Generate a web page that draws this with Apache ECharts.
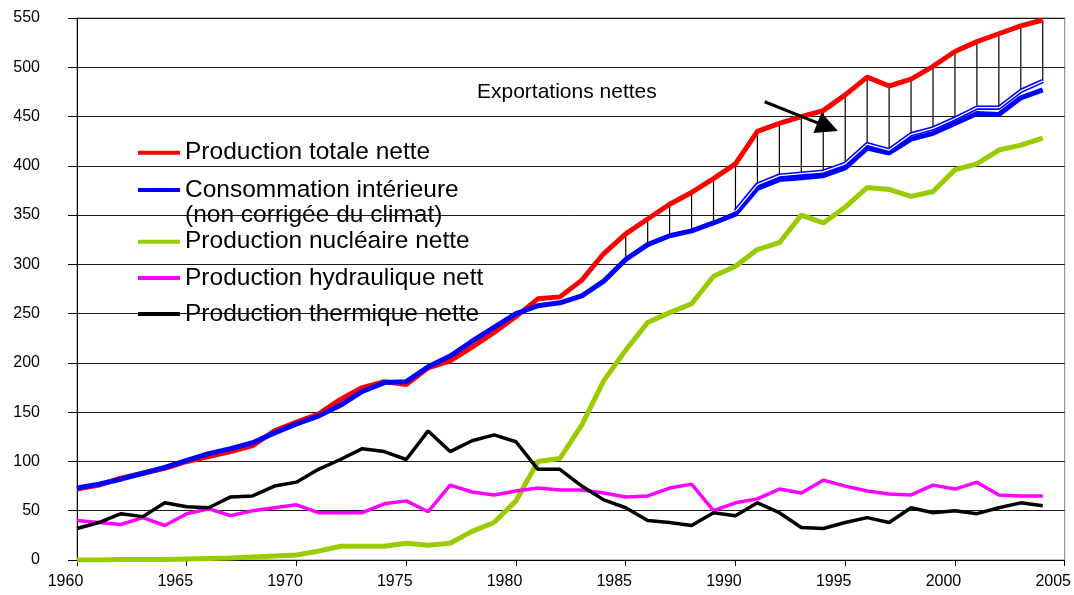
<!DOCTYPE html>
<html>
<head>
<meta charset="utf-8">
<script src="https://cdn.jsdelivr.net/npm/echarts@6/dist/echarts.min.js"></script>
<style>
  html, body { margin: 0; padding: 0; background: #fff; }
  #chart { width: 1074px; height: 595px; }
</style>
</head>
<body>
<div id="chart"></div>
<script>
// années 1960 -> 2004
var annees = [];
for (var a = 1960; a <= 2004; a++) annees.push(a);

// TWh
var totale = [72, 76, 83, 88, 93, 100, 105, 110, 116, 131,
  140, 148, 163, 175, 181, 178, 195, 202, 216, 231,
  247, 265, 267, 284, 311, 331, 346, 361, 373, 387,
  402, 435, 443, 450, 456, 472, 490, 481, 488, 501,
  516, 526, 534, 542, 548];
var consommation = [73, 77, 82, 88, 94, 101, 108, 113, 119, 129,
  138, 146, 157, 171, 180, 181, 196, 207, 222, 236,
  250, 258, 261, 268, 283, 305, 320, 329, 334, 342,
  351, 377, 386, 388, 390, 398, 418, 413, 427, 433,
  443, 453, 452, 469, 477];
// trait fin au-dessus de la consommation (1990 -> 2004)
var consHautAnnees = [1990, 1991, 1992, 1993, 1994, 1995, 1996, 1997, 1998, 1999, 2000, 2001, 2002, 2003, 2004];
var consHaut = [354, 381, 390, 392, 394, 402, 422, 416, 432, 438, 448, 459, 459, 476, 486];
var nucleaire = [0, 0, 0.5, 0.5, 0.5, 1, 1.5, 2, 3, 4,
  5, 9, 14, 14, 14, 17, 15, 17, 29, 38,
  60, 100, 103, 137, 182, 213, 241, 251, 260, 288,
  298, 315, 322, 350, 342, 358, 378, 376, 369, 374,
  396, 402, 416, 421, 428];
var hydraulique = [40, 38, 36, 43, 35, 47, 52, 45, 50, 53,
  56, 48, 48, 48, 57, 60, 49, 76, 69, 66,
  70, 73, 71, 71, 68, 64, 65, 73, 77, 50,
  58, 62, 72, 68, 81, 75, 70, 67, 66, 76,
  72, 79, 66, 65, 65];
var thermique = [32, 38, 47, 44, 58, 54, 53, 64, 65, 75,
  79, 92, 102, 113, 110, 102, 131, 110, 121, 127,
  120, 92, 92, 75, 61, 53, 40, 38, 35, 48,
  45, 58, 48, 33, 32, 38, 43, 38, 53, 48,
  50, 47, 53, 58, 55];
var hachuresDebut = 1985;

var noms = ['Production totale nette', 'Consommation intérieure', 'Production nucléaire nette',
  'Production hydraulique nette', 'Production thermique nette'];

function paires(xs, ys) {
  return xs.map(function (x, i) { return [x, ys[i]]; });
}

// traits verticaux "exportations nettes"
var hachures = [];
annees.forEach(function (an, i) {
  if (an < hachuresDebut) return;
  var k = consHautAnnees.indexOf(an);
  var bas = k >= 0 ? consHaut[k] : consommation[i];
  hachures.push([an, totale[i], bas]);
});

var police = 'Arial, "Liberation Sans", sans-serif';

var chart = echarts.init(document.getElementById('chart'));

var option = {
  animation: false,
  backgroundColor: '#fff',
  grid: {
    left: 77, right: 8, top: 18, bottom: 35,
    show: true, borderColor: '#808080', borderWidth: 1
  },
  xAxis: {
    type: 'value', min: 1960, max: 2005, interval: 5,
    axisLine: { lineStyle: { color: '#000', width: 1 } },
    axisTick: { show: true, length: 6, lineStyle: { color: '#000' } },
    splitLine: { show: false },
    axisLabel: {
      color: '#000', fontSize: 16, fontFamily: police, margin: 14,
      padding: [0, 23, 0, 0],
      formatter: function (v) { return String(v); }
    }
  },
  yAxis: {
    type: 'value', min: 0, max: 550, interval: 50,
    axisLine: { show: true, lineStyle: { color: '#000', width: 1 } },
    axisTick: { show: true, length: 9, lineStyle: { color: '#000' } },
    splitLine: { lineStyle: { color: '#1a1a1a', width: 1 } },
    axisLabel: { color: '#000', fontSize: 16, fontFamily: police, margin: 37 }
  },
  legend: [
    {
      data: [noms[0], noms[1]],
      orient: 'vertical', left: 138, top: 139.7, padding: 0,
      itemWidth: 42, itemHeight: 4, itemGap: 11.3, icon: 'rect',
      selectedMode: false,
      textStyle: { color: '#000', fontSize: 24.5, fontFamily: police, lineHeight: 26 }
    },
    {
      data: [noms[2], noms[3], noms[4]],
      orient: 'vertical', left: 138, top: 228.7, padding: 0,
      itemWidth: 42, itemHeight: 4, itemGap: 10.2, icon: 'rect',
      selectedMode: false,
      textStyle: {
        color: '#000', fontSize: 24.5, fontFamily: police, lineHeight: 26,
        width: 309, overflow: 'truncate', ellipsis: ''
      }
    }
  ],
  graphic: [
    {
      type: 'text', left: 185, top: 203, silent: true,
      style: { text: '(non corrigée du climat)', fill: '#000', font: '24.5px ' + police }
    },
    {
      type: 'text', left: 477, top: 82, silent: true,
      style: { text: 'Exportations nettes', fill: '#000', font: '21px ' + police }
    }
  ],
  series: [
    {
      name: 'hachures', type: 'custom', z: 1, silent: true,
      data: hachures,
      encode: { x: 0, y: [1, 2] },
      renderItem: function (params, api) {
        var p1 = api.coord([api.value(0), api.value(1)]);
        var p2 = api.coord([api.value(0), api.value(2)]);
        return {
          type: 'line',
          shape: { x1: p1[0], y1: p1[1], x2: p2[0], y2: p2[1] },
          style: { stroke: '#000', lineWidth: 1.2 }
        };
      }
    },
    {
      name: noms[0], type: 'line', data: paires(annees, totale),
      showSymbol: false, symbol: 'none', color: '#ff0000',
      lineStyle: { width: 5, color: '#ff0000' },
      markLine: {
        silent: true, symbol: ['none', 'triangle'], symbolSize: 22,
        lineStyle: { color: '#000', width: 3, type: 'solid' },
        label: { show: false },
        data: [[{ coord: [1991.33, 465] }, { coord: [1994.2, 439.5] }]]
      }
    },
    {
      name: noms[1], type: 'line', data: paires(annees, consommation),
      showSymbol: false, symbol: 'none', color: '#0000ff',
      lineStyle: { width: 5, color: '#0000ff' }
    },
    {
      name: 'consHaut', type: 'line', data: paires(consHautAnnees, consHaut),
      showSymbol: false, symbol: 'none', color: '#0000ff',
      lineStyle: { width: 4.5, color: '#0000ff' }
    },
    {
      name: 'consHautBlanc', type: 'line', data: paires(consHautAnnees, consHaut),
      showSymbol: false, symbol: 'none', color: '#ffffff',
      lineStyle: { width: 1.3, color: '#ffffff' }
    },
    {
      name: noms[2], type: 'line', data: paires(annees, nucleaire),
      showSymbol: false, symbol: 'none', color: '#99cc00',
      lineStyle: { width: 5, color: '#99cc00' }
    },
    {
      name: noms[3], type: 'line', data: paires(annees, hydraulique),
      showSymbol: false, symbol: 'none', color: '#ff00ff',
      lineStyle: { width: 3.5, color: '#ff00ff' }
    },
    {
      name: noms[4], type: 'line', data: paires(annees, thermique),
      showSymbol: false, symbol: 'none', color: '#000000',
      lineStyle: { width: 3.5, color: '#000000' }
    }
  ]
};

chart.setOption(option);
</script>
</body>
</html>
